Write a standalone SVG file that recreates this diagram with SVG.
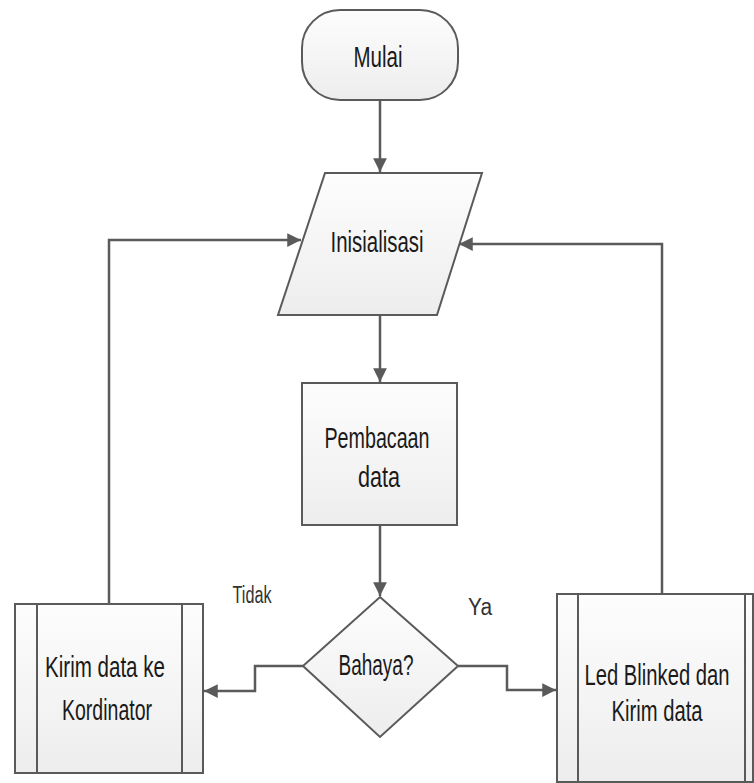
<svg xmlns="http://www.w3.org/2000/svg" width="754" height="783" viewBox="0 0 754 783">
<style>
.shape{fill:url(#g);stroke:#5a5a5a;stroke-width:2}
.inner{fill:none;stroke:#5a5a5a;stroke-width:2}
.t{font-family:"Liberation Sans",Arial,sans-serif;font-size:30px;fill:#1a1a1a;text-anchor:middle}
.l{font-family:"Liberation Sans",Arial,sans-serif;font-size:23px;fill:#333;text-anchor:middle}
.c{fill:none;stroke:#5a5a5a;stroke-width:2.5;marker-end:url(#a)}
</style>
<defs>
<linearGradient id="g" x1="0" y1="0" x2="0" y2="1">
<stop offset="0" stop-color="#fdfdfd"/>
<stop offset="1" stop-color="#ededed"/>
</linearGradient>
<marker id="a" viewBox="0 0 10 10" refX="10" refY="5" markerWidth="5.5" markerHeight="5.5" orient="auto" markerUnits="strokeWidth">
<path d="M0,0 L10,5 L0,10 z" fill="#5a5a5a"/>
</marker>
</defs>
<rect width="754" height="783" fill="#ffffff"/>
<g id="connectors">
<path class="c" d="M380,100 L380,172"/>
<path class="c" d="M380,315 L380,382"/>
<path class="c" d="M380,525 L380,596"/>
<path class="c" d="M303,666 L255,666 L255,691 L204,691"/>
<path class="c" d="M458,666 L507,666 L507,690 L556,690"/>
<path class="c" d="M109,603 L109,240 L301,240"/>
<path class="c" d="M662,593 L662,244 L459,244"/>
</g>
<g id="mulai">
<rect class="shape" x="302" y="10" width="156" height="90" rx="38" ry="38"/>
<text class="t" x="378" y="67" textLength="49" lengthAdjust="spacingAndGlyphs">Mulai</text>
</g>
<g id="inisialisasi">
<polygon class="shape" points="325,173 482,173 437,315 278,315"/>
<text class="t" x="377" y="252" textLength="93" lengthAdjust="spacingAndGlyphs">Inisialisasi</text>
</g>
<g id="pembacaan">
<rect class="shape" x="302" y="383" width="155" height="142"/>
<text class="t" x="377" y="448" textLength="105" lengthAdjust="spacingAndGlyphs">Pembacaan</text>
<text class="t" x="379" y="487" textLength="42" lengthAdjust="spacingAndGlyphs">data</text>
</g>
<g id="bahaya">
<polygon class="shape" points="380,597 458,666 380,737 303,666"/>
<text class="t" x="376" y="675" textLength="75" lengthAdjust="spacingAndGlyphs">Bahaya?</text>
</g>
<g id="kirim">
<rect class="shape" x="15" y="604" width="188" height="169"/>
<line class="inner" x1="37" y1="604" x2="37" y2="773"/>
<line class="inner" x1="182" y1="604" x2="182" y2="773"/>
<text class="t" x="105" y="677" textLength="120" lengthAdjust="spacingAndGlyphs">Kirim data ke</text>
<text class="t" x="107" y="720" textLength="90" lengthAdjust="spacingAndGlyphs">Kordinator</text>
</g>
<g id="led">
<rect class="shape" x="557" y="594" width="196" height="188"/>
<line class="inner" x1="578" y1="594" x2="578" y2="782"/>
<line class="inner" x1="745" y1="594" x2="745" y2="782"/>
<text class="t" x="657" y="685" textLength="145" lengthAdjust="spacingAndGlyphs">Led Blinked dan</text>
<text class="t" x="657" y="721" textLength="91" lengthAdjust="spacingAndGlyphs">Kirim data</text>
</g>
<g id="labels">
<text class="l" x="252" y="603" textLength="39" lengthAdjust="spacingAndGlyphs">Tidak</text>
<text class="l" x="480" y="615" textLength="24" lengthAdjust="spacingAndGlyphs">Ya</text>
</g>
</svg>
